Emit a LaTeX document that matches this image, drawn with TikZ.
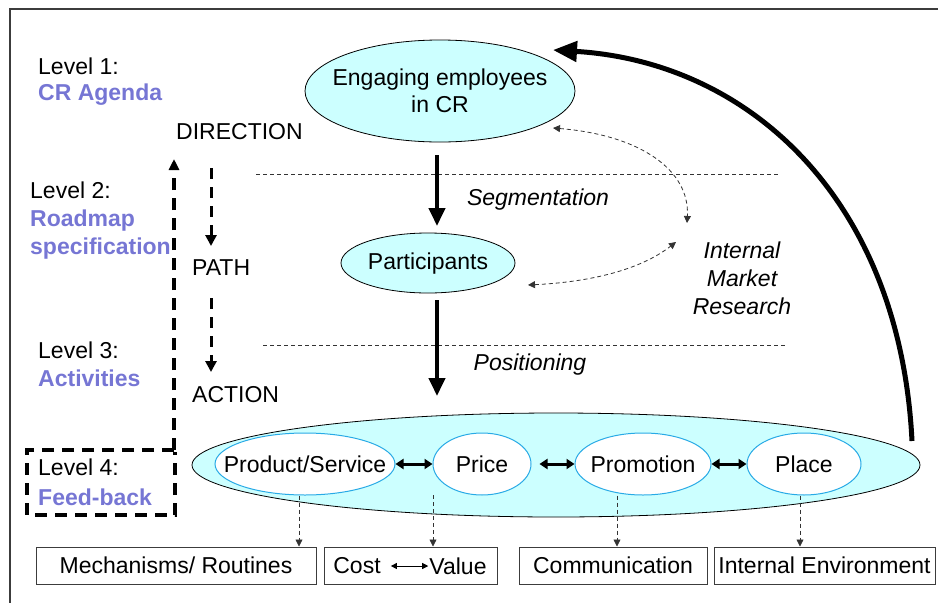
\documentclass[tikz,border=0pt]{standalone}
\usepackage{fontspec}
\setmainfont{Liberation Sans}
\usetikzlibrary{shapes.geometric,arrows.meta}
\definecolor{cyanfill}{RGB}{204,255,255}
\definecolor{lvl}{RGB}{118,118,212}
\definecolor{innerb}{RGB}{40,170,230}
\definecolor{frame}{RGB}{60,60,60}
\begin{document}
\begin{tikzpicture}[x=1pt,y=-1pt,
  txt/.style={font=\fontsize{23}{27}\selectfont, inner sep=0pt},
  plain/.style={txt, anchor=west},
  lvlhead/.style={txt, anchor=west, font=\fontsize{23}{27}\selectfont\bfseries, text=lvl},
  itl/.style={txt, font=\fontsize{23}{28}\selectfont\itshape, align=center},
  bigell/.style={ellipse, draw=black, line width=0.8pt, fill=cyanfill, inner sep=0pt},
  inell/.style={ellipse, draw=innerb, line width=1pt, fill=white, inner sep=0pt, minimum height=62},
  intext/.style={label={[txt]center:#1}},
  outbox/.style={rectangle, draw=frame, line width=1pt, minimum height=37, inner sep=0pt},
  thickdash/.style={line width=3.5pt, dash pattern=on 12pt off 8pt},
  thindash/.style={line width=0.8pt, dash pattern=on 4pt off 3pt, black!80},
  bigarrow/.style={line width=4pt, -{Triangle[length=18pt,width=16pt]}},
  dblarrow/.style={line width=3pt, {Triangle[length=8pt,width=10pt]}-{Triangle[length=8pt,width=10pt]}},
  smalltip/.style={-{Triangle[length=7pt,width=7pt]}},
]
\useasboundingbox (0,0) rectangle (938,603);
% frame
\draw[line width=1.5pt, frame] (10,603) -- (10,9) -- (938,9);

% left labels
\node[plain] (l1) at (38,66) {Level 1:};
\node[lvlhead] (l1b) at (38,95) {CR Agenda};
\node[plain] (dir) at (176,132) {DIRECTION};
\node[plain] (l2) at (30,190) {Level 2:};
\node[lvlhead] (l2b) at (30,221) {Roadmap};
\node[lvlhead] (l2c) at (30,249) {specification};
\node[plain] (path) at (192,268) {PATH};
\node[plain] (l3) at (38,350) {Level 3:};
\node[lvlhead] (l3b) at (38,378) {Activities};
\node[plain] (act) at (192,395) {ACTION};
\node[plain] (l4) at (38,467) {Level 4:};
\node[lvlhead] (l4b) at (38,497) {Feed-back};

% feedback box and arrows
\coordinate (fbA) at (174,450);
\coordinate (fbB) at (174,159);
\draw[thickdash] (fbA) -- (27,450) -- (27,515) -- (175,515) -- (175,452);
\draw[thickdash, -{Triangle[length=11pt,width=10pt]}] (fbA) -- (fbB);
\coordinate (d1a) at (211,168);
\coordinate (d1b) at (211,246);
\coordinate (d2a) at (211,298);
\coordinate (d2b) at (211,372);
\draw[line width=3pt, dash pattern=on 11pt off 8pt, -{Triangle[length=11pt,width=11pt]}] (d1a) -- (d1b);
\draw[line width=3pt, dash pattern=on 11pt off 8pt, -{Triangle[length=11pt,width=11pt]}] (d2a) -- (d2b);

% level separators
\draw[thindash] (256,174) -- (780,174);
\draw[thindash] (263,345) -- (787,345);

% top ellipse
\node[bigell, minimum width=270, minimum height=102, label={[txt, yshift=-3pt]center:{\begin{tabular}{@{}c@{}}Engaging employees\\in CR\end{tabular}}}] (eng) at (440,91) {};
\node[bigell, minimum width=174, minimum height=60, label={[txt, yshift=-1pt]center:Participants}] (part) at (428,263) {};

\coordinate (a1s) at (437,155);
\coordinate (a1e) at (437,226);
\draw[bigarrow] (a1s) -- (a1e);
\coordinate (a2s) at (437,300);
\coordinate (a2e) at (437,396);
\draw[bigarrow] (a2s) -- (a2e);

\node[itl] (seg) at (538,200) {Segmentation};
\node[itl] (pos) at (530,365) {Positioning};
\node[itl] (imr) at (742,278) {Internal\\Market\\Research};

% research curves
\coordinate (c1a) at (553,128);
\coordinate (c1b) at (687,223);
\draw[thindash, {Triangle[length=7pt,width=7pt]}-{Triangle[length=7pt,width=7pt]}] (c1a) .. controls (640,135) and (690,170) .. (c1b);
\coordinate (c2a) at (528,285);
\coordinate (c2b) at (676,242);
\draw[thindash, {Triangle[length=7pt,width=7pt]}-{Triangle[length=7pt,width=7pt]}] (c2a) .. controls (590,282) and (640,270) .. (c2b);

% bottom ellipse
\node[bigell, minimum width=728, minimum height=104] (mix) at (556,465) {};
\node[inell, minimum width=180, intext=Product/Service] (prod) at (305,464) {};
\node[inell, minimum width=98, intext=Price] (price) at (482,464) {};
\node[inell, minimum width=136, intext=Promotion] (prom) at (643,464) {};
\node[inell, minimum width=114, intext=Place] (place) at (804,464) {};

\draw[dblarrow] (prod.east) -- (price.west);
\draw[dblarrow, shorten <=8pt] (price.east) -- (prom.west);
\draw[dblarrow] (prom.east) -- (place.west);

% boxes
\node[outbox, minimum width=280, txt, minimum height=37] (mech) at (176,565.5) {Mechanisms/ Routines};
\node[outbox, minimum width=173, minimum height=37] (cost) at (410.5,565.5) {};
\node[txt] (costt) at (357,566) {Cost};
\node[txt] (valt) at (458,566) {Value};
\draw[line width=0.8pt, {Triangle[length=6pt,width=6pt]}-{Triangle[length=6pt,width=6pt]}] ([xshift=10pt]costt.east) -- ([xshift=-1pt]valt.west);
\node[outbox, minimum width=188, txt, minimum height=37] (comm) at (613,565.5) {Communication};
\node[outbox, minimum width=221, txt, minimum height=37] (env) at (824.5,565.5) {Internal Environment};

% dashed links to boxes
\draw[thindash, smalltip] (prod.south -| 299,0) -- (mech.north -| 299,0);
\draw[thindash, smalltip] (433,495) -- (cost.north -| 433,0);
\draw[thindash, smalltip] (prom.south -| 617,0) -- (comm.north -| 617,0);
\draw[thindash, smalltip] (place.south -| 800,0) -- (env.north -| 800,0);

% feedback arc
\coordinate (arcS) at (912,441);
\coordinate (arcE) at (553,50);
\draw[line width=5pt, -{Triangle[length=24pt,width=20pt]}] (arcS) .. controls (900,200) and (750,62) .. (arcE);
\end{tikzpicture}
\end{document}
